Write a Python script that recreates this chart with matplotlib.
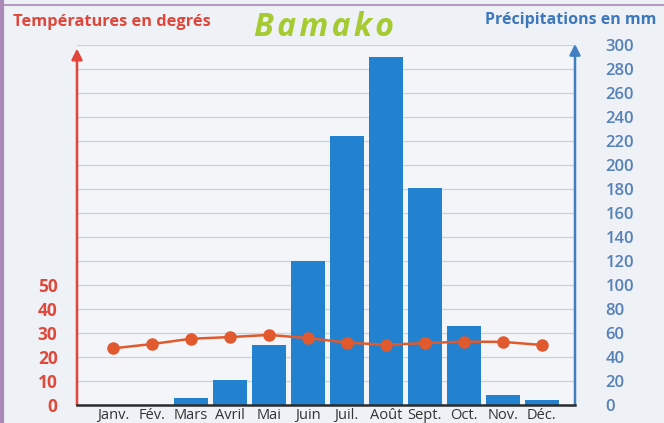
import matplotlib.pyplot as plt
import numpy as np

plt.rcParams['font.family'] = ['Open Sans', 'DejaVu Sans']

mois = ["Janv.", "Fév.", "Mars", "Avril", "Mai", "Juin",
        "Juil.", "Août", "Sept.", "Oct.", "Nov.", "Déc."]
precipitations = [0, 0, 6, 21, 50, 120, 224, 290, 181, 66, 8, 4]
temperatures = [23.6, 25.4, 27.6, 28.3, 29.2, 27.9, 26.0, 25.1, 25.8, 26.4, 26.3, 25.0]
ticks_precip = list(range(0, 301, 20))
ticks_temp = [0, 10, 20, 30, 40, 50]

rouge = "#e2453a"
bleu = "#3f7fc2"
x = np.arange(len(mois))

fig = plt.figure(figsize=(6.64, 4.23), dpi=100, facecolor="#eef1f5")
ax = fig.add_axes([77/664, 18/423, 498/664, 360/423])
ax.set_facecolor("#f3f5f8")
tax = ax.twinx()

# barres des précipitations
ax.bar(x, precipitations, width=0.87, color="#2382cf", zorder=2)
ax.set_ylim(0, 300)
ax.set_xlim(-0.92, 11.85)
ax.set_yticks(ticks_precip)
ax.yaxis.tick_right()
ax.tick_params(axis="y", length=0, pad=22, labelcolor="#5580b8", labelsize=12)
for lab in ax.get_yticklabels():
    lab.set_fontweight("semibold")
ax.set_xticks(x)
ax.set_xticklabels(mois, fontsize=10.5, color="#333333")
ax.tick_params(axis="x", length=0, pad=2)
ax.grid(axis="y", color="#c9d0de", linewidth=0.9, zorder=0)
for s in ["left", "right", "top"]:
    ax.spines[s].set_visible(False)
ax.spines["bottom"].set_color("#2b2b2b")
ax.spines["bottom"].set_linewidth(1.8)
ax.spines["bottom"].set_zorder(5)

# courbe des températures
tax.set_ylim(0, 150)
tax.plot(x, temperatures, color="#e05a2e", linewidth=1.8, marker="o",
         markersize=8, zorder=4)
tax.yaxis.tick_left()
tax.set_yticks(ticks_temp)
tax.tick_params(axis="y", length=0, pad=14, labelcolor="#df4a3c", labelsize=12.5)
for lab in tax.get_yticklabels():
    lab.set_fontweight("bold")
for s in tax.spines.values():
    s.set_visible(False)

# axes avec flèches
ax.annotate("", xy=(0, 0.99), xytext=(0, 0), xycoords="axes fraction",
            arrowprops=dict(arrowstyle="-|>", color=rouge, lw=1.8,
                            mutation_scale=16, shrinkA=0, shrinkB=0))
ax.annotate("", xy=(1, 1.003), xytext=(1, 0), xycoords="axes fraction",
            arrowprops=dict(arrowstyle="-|>", color=bleu, lw=1.8,
                            mutation_scale=16, shrinkA=0, shrinkB=0))

# bordures de la page
fig.add_artist(plt.Line2D([0, 1], [1 - 5/423, 1 - 5/423], color="#b79ac4", lw=1.5))
fig.add_artist(plt.Line2D([1.5/664, 1.5/664], [0, 1], color="#a98ab8", lw=3))

fig.text(13/664, 1 - 22/423, "Températures en degrés", color="#e0473c",
         fontsize=11.8, fontweight="bold", va="center", ha="left")
fig.text(324/664, 1 - 27/423, "B\u200aa\u200am\u200aa\u200ak\u200ao", color="#a6cb32",
         fontsize=23, fontweight="bold", style="italic", va="center", ha="center")
fig.text(485/664, 1 - 20/423, "Précipitations en mm", color="#3d78bd",
         fontsize=11.5, fontweight="bold", va="center", ha="left")

fig.savefig("out.png", dpi=100, facecolor=fig.get_facecolor())
